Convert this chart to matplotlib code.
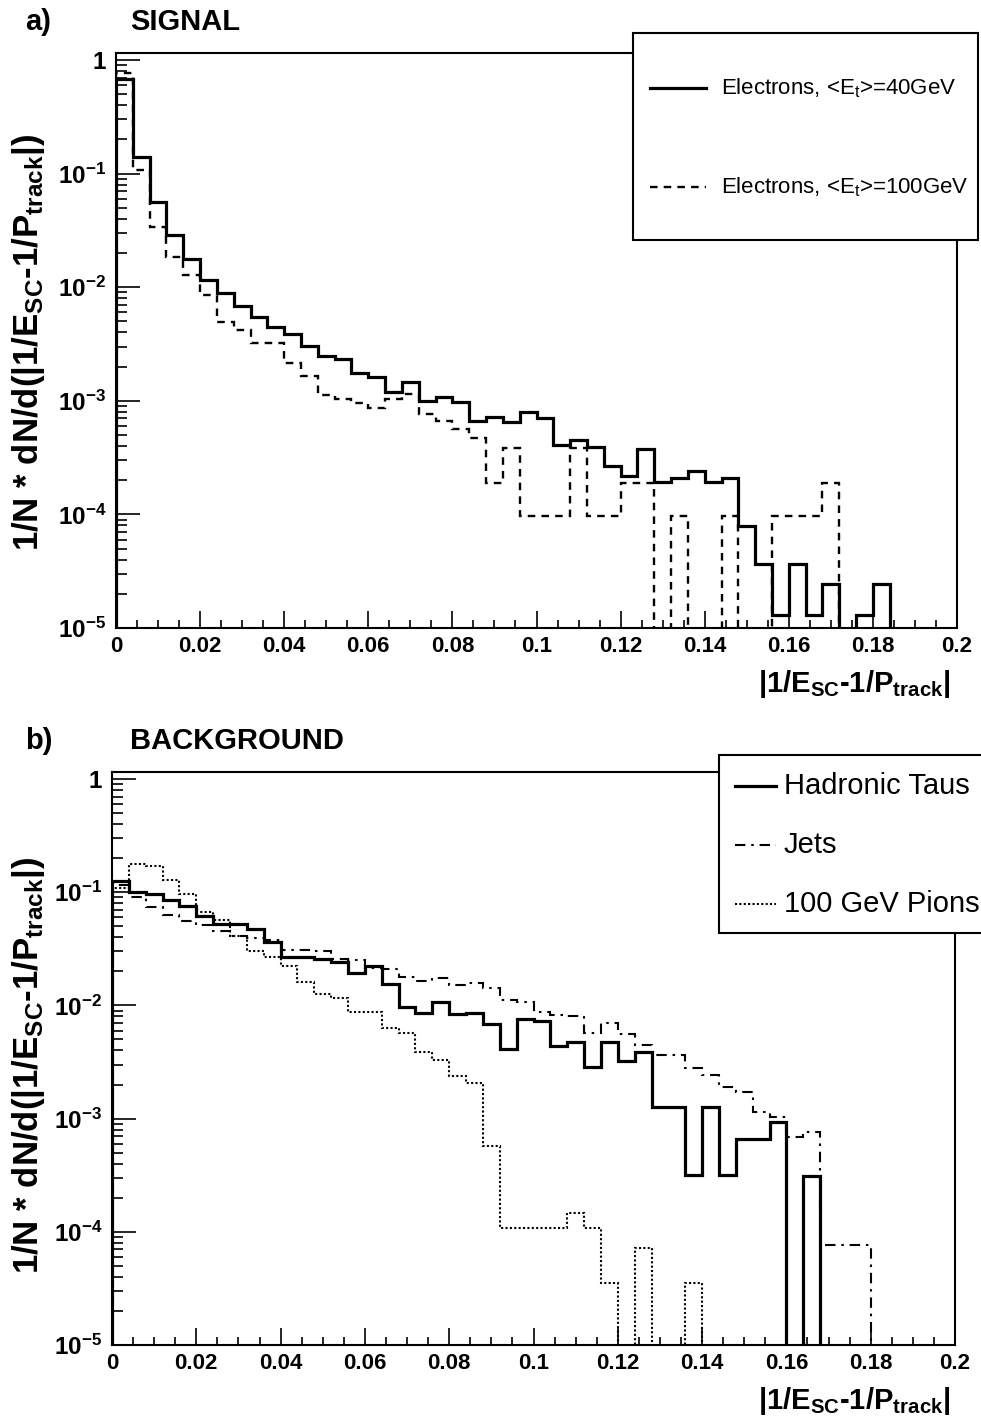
import numpy as np
import matplotlib
matplotlib.use('Agg')
import matplotlib.pyplot as plt
from matplotlib.lines import Line2D
from matplotlib.patches import Rectangle
from matplotlib.ticker import FixedLocator, LogLocator, NullFormatter

plt.rcParams['font.family'] = ['Liberation Sans', 'DejaVu Sans']
plt.rcParams['mathtext.fontset'] = 'custom'
plt.rcParams['mathtext.rm'] = 'Liberation Sans'
plt.rcParams['mathtext.bf'] = 'Liberation Sans:bold'
plt.rcParams['mathtext.it'] = 'Liberation Sans:italic'
plt.rcParams['mathtext.default'] = 'regular'

# ---------------- data ----------------
bin_edges = np.linspace(0.0, 0.2, 51)

x_ticks = [0.0, 0.02, 0.04, 0.06, 0.08, 0.10, 0.12, 0.14, 0.16, 0.18, 0.20]
x_tick_labels = ['0', '0.02', '0.04', '0.06', '0.08', '0.1', '0.12', '0.14', '0.16', '0.18', '0.2']
y_ticks = [1e-5, 1e-4, 1e-3, 1e-2, 1e-1, 1.0]
y_tick_labels = ['10$^{-5}$', '10$^{-4}$', '10$^{-3}$', '10$^{-2}$', '10$^{-1}$', '1']

# Panel a: SIGNAL
electrons_40 = [0.68, 0.139, 0.0559, 0.0288, 0.0176, 0.01157, 0.00883, 0.00688, 0.0055, 0.00445,
                0.0039, 0.00305, 0.00246, 0.00232, 0.00175, 0.00163, 0.0012, 0.00146, 0.000996, 0.00109,
                0.00097, 0.000668, 0.000715, 0.000646, 0.000802, 0.000701, 0.000408, 0.000452, 0.000394, 0.000268,
                0.00022, 0.000376, 0.000192, 0.000208, 0.000239, 0.000193, 0.000208, 7.88e-5, 3.65e-5, 1.29e-5,
                3.65e-5, 1.29e-5, 2.43e-5, 0.0, 1.29e-5, 2.43e-5, 0.0, 0.0, 0.0, 0.0]
electrons_100 = [0.77, 0.1076, 0.034, 0.0186, 0.0128, 0.00853, 0.00497, 0.0042, 0.0032, 0.0032,
                 0.00215, 0.00165, 0.00112, 0.00103, 0.00095, 0.00086, 0.00103, 0.00114, 0.00076, 0.000668,
                 0.000561, 0.000468, 0.000188, 0.000382, 9.7e-5, 9.7e-5, 9.7e-5, 0.000382, 9.7e-5, 9.7e-5,
                 0.00019, 0.00019, 0.0, 9.7e-5, 0.0, 0.0, 9.7e-5, 0.0, 0.0, 9.7e-5,
                 9.7e-5, 9.7e-5, 0.00019, 0.0, 0.0, 0.0, 0.0, 0.0, 0.0, 0.0]

# Panel b: BACKGROUND
hadronic_taus = [0.125, 0.101, 0.0964, 0.0853, 0.0755, 0.0616, 0.052, 0.052, 0.0473, 0.0366,
                 0.0269, 0.0269, 0.0257, 0.0243, 0.0192, 0.0224, 0.0153, 0.0097, 0.0086, 0.01065,
                 0.00834, 0.00862, 0.0068, 0.00412, 0.00754, 0.0073, 0.00438, 0.00472, 0.00288, 0.00472,
                 0.00323, 0.00385, 0.00126, 0.00126, 0.000318, 0.00126, 0.000318, 0.000656, 0.000656, 0.00094,
                 0.0, 0.00031, 0.0, 0.0, 0.0, 0.0, 0.0, 0.0, 0.0, 0.0]
jets = [0.115, 0.091, 0.0747, 0.063, 0.0556, 0.0515, 0.045, 0.0411, 0.0395, 0.0378,
        0.031, 0.031, 0.0304, 0.0257, 0.0254, 0.0215, 0.0209, 0.018, 0.0164, 0.0173,
        0.0151, 0.0159, 0.0143, 0.0112, 0.0108, 0.0088, 0.0082, 0.0081, 0.00574, 0.00695,
        0.00559, 0.00447, 0.00365, 0.00365, 0.00278, 0.00243, 0.00191, 0.00173, 0.00115, 0.00104,
        0.000684, 0.000767, 7.64e-5, 7.64e-5, 7.64e-5, 0.0, 0.0, 0.0, 0.0, 0.0]
pions_100 = [0.11, 0.178, 0.17, 0.128, 0.096, 0.067, 0.057, 0.041, 0.0304, 0.0268,
             0.0223, 0.0162, 0.0127, 0.0116, 0.0088, 0.0088, 0.0063, 0.0057, 0.0039, 0.0033,
             0.00238, 0.00205, 0.000577, 0.000107, 0.000107, 0.000107, 0.000107, 0.000146, 0.000107, 3.55e-5,
             0.0, 7.15e-5, 0.0, 0.0, 3.55e-5, 0.0, 0.0, 0.0, 0.0, 0.0,
             0.0, 0.0, 0.0, 0.0, 0.0, 0.0, 0.0, 0.0, 0.0, 0.0]

# ---------------- layout ----------------
W, H = 981, 1418
fig = plt.figure(figsize=(W / 100, H / 100), dpi=100)
fig.patch.set_facecolor('white')


def fx(x):
    return x / W


def fy(y):
    return 1 - y / H


def rect(l, t, r, b):
    return [l / W, 1 - b / H, (r - l) / W, (b - t) / H]


YMIN, YMAX = 1e-5, 1.153
FLOOR = 1e-8

style_solid = dict(color='black', lw=2.3, linestyle='-')
style_dashed = dict(color='black', lw=1.7, linestyle=(0, (3.2, 2.6)))
style_dashdot = dict(color='black', lw=1.5, linestyle=(0, (5, 2.8, 1.2, 2.8)))
style_dotted = dict(color='black', lw=1.5, linestyle=(0, (1.0, 1.1)))


def style_axes(ax):
    ax.set_yscale('log')
    ax.set_xlim(0, 0.2)
    ax.set_ylim(YMIN, YMAX)
    for s in ax.spines.values():
        s.set_linewidth(1.5)
    ax.xaxis.set_major_locator(FixedLocator(x_ticks))
    ax.set_xticklabels(x_tick_labels, fontsize=16, fontweight='bold')
    ax.xaxis.set_minor_locator(FixedLocator(np.arange(0, 0.2001, 0.005)))
    ax.yaxis.set_major_locator(FixedLocator(y_ticks))
    ax.set_yticklabels(y_tick_labels, fontsize=17.5, fontweight='bold')
    ax.yaxis.set_minor_locator(LogLocator(base=10, subs=np.arange(2, 10)))
    ax.yaxis.set_minor_formatter(NullFormatter())
    ax.tick_params(which='both', direction='in', top=False, right=False, width=1.2)
    ax.xaxis.set_tick_params(which='major', length=12, pad=6)
    ax.xaxis.set_tick_params(which='minor', length=6)
    ax.yaxis.set_tick_params(which='major', length=17, pad=7)
    ax.yaxis.set_tick_params(which='minor', length=8)


def draw_hist(ax, vals, st):
    v = np.asarray(vals, dtype=float)
    v = np.where(v > 0, v, FLOOR)
    ax.stairs(v, bin_edges, baseline=FLOOR, fill=False, **st)


# Panel a
ax_a = fig.add_axes(rect(116, 53, 957, 628))
style_axes(ax_a)
draw_hist(ax_a, electrons_100, style_dashed)
draw_hist(ax_a, electrons_40, style_solid)

# Panel b
ax_b = fig.add_axes(rect(112, 772, 955, 1345))
style_axes(ax_b)
draw_hist(ax_b, pions_100, style_dotted)
draw_hist(ax_b, jets, style_dashdot)
draw_hist(ax_b, hadronic_taus, style_solid)

ylab = '1/N * dN/d(|1/E$_{SC}$-1/P$_{track}$|)'
xlab = '|1/E$_{SC}$-1/P$_{track}$|'

fig.text(fx(29), fy(342), ylab, rotation=90, ha='center', va='center', fontsize=25, fontweight='bold')
fig.text(fx(29), fy(1065), ylab, rotation=90, ha='center', va='center', fontsize=25, fontweight='bold')
fig.text(fx(950), fy(684), xlab, ha='right', va='center', fontsize=21, fontweight='bold')
fig.text(fx(950), fy(1401), xlab, ha='right', va='center', fontsize=21, fontweight='bold')

# Titles
fig.text(fx(25), fy(22), 'a)', ha='left', va='center', fontsize=21, fontweight='bold')
fig.text(fx(130), fy(22), 'SIGNAL', ha='left', va='center', fontsize=21, fontweight='bold')
fig.text(fx(25), fy(741), 'b)', ha='left', va='center', fontsize=21, fontweight='bold')
fig.text(fx(130), fy(741), 'BACKGROUND', ha='left', va='center', fontsize=21, fontweight='bold')


def legend_box(l, t, r, b, entries, x_line0, x_line1, x_text, fs):
    box = Rectangle((fx(l), fy(b)), (r - l) / W, (b - t) / H, transform=fig.transFigure,
                    facecolor='white', edgecolor='black', lw=1.5, zorder=5)
    fig.add_artist(box)
    for y, label, st in entries:
        ln = Line2D([fx(x_line0), fx(x_line1)], [fy(y), fy(y)], transform=fig.transFigure, zorder=6, **st)
        fig.add_artist(ln)
        fig.text(fx(x_text), fy(y), label, ha='left', va='center', fontsize=fs, zorder=7)


legend_box(633, 33, 978, 240,
           [(88, 'Electrons, <E$_{t}$>=40GeV', style_solid),
            (187, 'Electrons, <E$_{t}$>=100GeV', style_dashed)],
           650, 706, 721, 16.0)

legend_box(719, 755, 992, 933,
           [(786, 'Hadronic Taus', style_solid),
            (845, 'Jets', style_dashdot),
            (904, '100 GeV Pions', style_dotted)],
           735, 776, 784, 21)

fig.savefig('out.png', dpi=100, facecolor='white')
